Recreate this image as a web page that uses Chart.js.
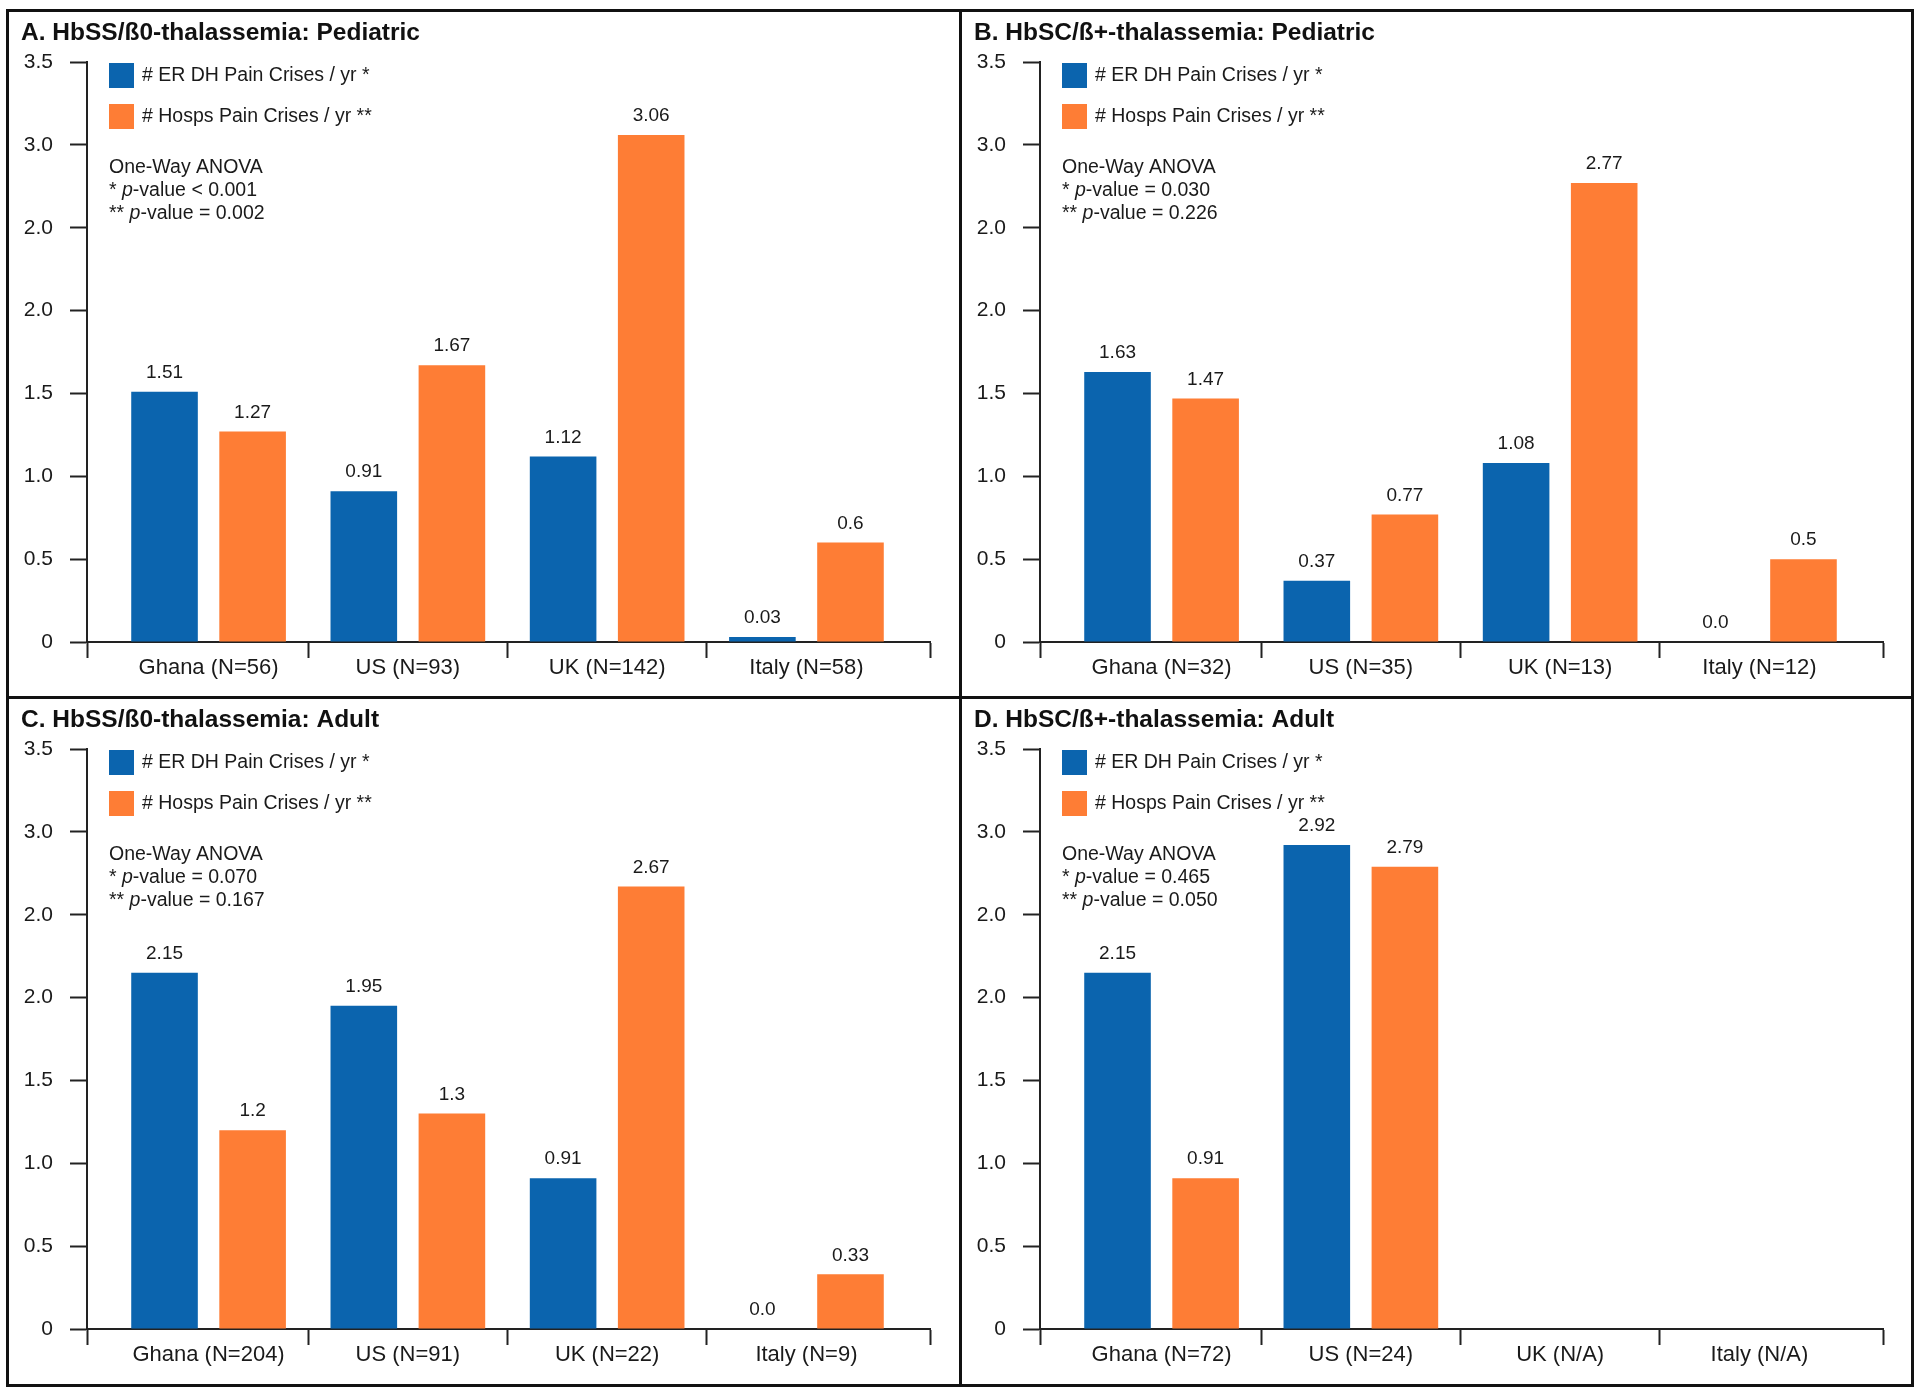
<!DOCTYPE html>
<html><head><meta charset="utf-8">
<script src="https://cdn.jsdelivr.net/npm/chart.js@4.4.1/dist/chart.umd.min.js"></script>
<style>
body{margin:0;background:#fff;width:1920px;height:1393px;position:relative;overflow:hidden}
.frame{position:absolute;left:6px;top:9px;width:1908px;height:1378px;border:3px solid #111;box-sizing:border-box}
.vline{position:absolute;left:959px;top:9px;width:3px;height:1378px;background:#111}
.hline{position:absolute;left:6px;top:696px;width:1908px;height:3px;background:#111}
canvas{position:absolute}
</style></head><body>
<div class="frame"></div><div class="vline"></div><div class="hline"></div>
<canvas id="cA" width="950" height="684" style="left:9px;top:12px"></canvas>
<canvas id="cB" width="950" height="684" style="left:962px;top:12px"></canvas>
<canvas id="cC" width="950" height="684" style="left:9px;top:699px"></canvas>
<canvas id="cD" width="950" height="684" style="left:962px;top:699px"></canvas>
<script>
// ---- data ----
const seriesNames = ['# ER DH Pain Crises / yr *', '# Hosps Pain Crises / yr **'];
const yTickValues = [0, 0.5, 1, 1.5, 2, 2.5, 3, 3.5];
const yTickLabels = ['0', '0.5', '1.0', '1.5', '2.0', '2.0', '3.0', '3.5'];

const titleA = 'A. HbSS/ß0-thalassemia: Pediatric';
const categoriesA = ['Ghana (N=56)', 'US (N=93)', 'UK (N=142)', 'Italy (N=58)'];
const erA = [1.51, 0.91, 1.12, 0.03];
const hospA = [1.27, 1.67, 3.06, 0.6];
const pA = ['< 0.001', '= 0.002'];

const titleB = 'B. HbSC/ß+-thalassemia: Pediatric';
const categoriesB = ['Ghana (N=32)', 'US (N=35)', 'UK (N=13)', 'Italy (N=12)'];
const erB = [1.63, 0.37, 1.08, 0.0];
const hospB = [1.47, 0.77, 2.77, 0.5];
const pB = ['= 0.030', '= 0.226'];

const titleC = 'C. HbSS/ß0-thalassemia: Adult';
const categoriesC = ['Ghana (N=204)', 'US (N=91)', 'UK (N=22)', 'Italy (N=9)'];
const erC = [2.15, 1.95, 0.91, 0.0];
const hospC = [1.2, 1.3, 2.67, 0.33];
const pC = ['= 0.070', '= 0.167'];

const titleD = 'D. HbSC/ß+-thalassemia: Adult';
const categoriesD = ['Ghana (N=72)', 'US (N=24)', 'UK (N/A)', 'Italy (N/A)'];
const erD = [2.15, 2.92, null, null];
const hospD = [0.91, 2.79, null, null];
const pD = ['= 0.465', '= 0.050'];

// ---- style ----
const FONT = '"Liberation Sans", Arial, Helvetica, sans-serif';
const BLUE = '#0B64AE';
const ORANGE = '#FE7D35';
const AX = '#222';
const TXT = '#1a1a1a';
const X_MIN = -0.61, X_MAX = 3.62;

const valueLabels = {
  id: 'valueLabels',
  afterDatasetsDraw(chart) {
    const ctx = chart.ctx;
    ctx.save();
    ctx.font = '19px ' + FONT;
    ctx.fillStyle = TXT;
    ctx.textAlign = 'center';
    ctx.textBaseline = 'middle';
    chart.data.datasets.forEach((ds, di) => {
      const meta = chart.getDatasetMeta(di);
      meta.data.forEach((el, i) => {
        const v = ds.data[i].y;
        if (v === null || v === undefined || !isFinite(el.x) || !isFinite(el.y)) return;
        const txt = v === 0 ? '0.0' : String(v);
        ctx.fillText(txt, el.x, el.y - 19);
      });
    });
    ctx.restore();
  }
};

const legendAnova = {
  id: 'legendAnova',
  afterDraw(chart, args, opts) {
    const ctx = chart.ctx;
    const a = chart.chartArea;
    const colors = [BLUE, ORANGE];
    ctx.save();
    ctx.textBaseline = 'middle';
    ctx.textAlign = 'left';
    for (let k = 0; k < 2; k++) {
      const by = a.top + 1 + k * 41;
      ctx.fillStyle = colors[k];
      ctx.fillRect(a.left + 22, by, 25, 25);
      ctx.fillStyle = TXT;
      ctx.font = '19.5px ' + FONT;
      ctx.fillText(chart.data.datasets[k].label, a.left + 55, by + 13);
    }
    const lines = [
      [['One-Way ANOVA', false]],
      [['* ', false], ['p', true], ['-value ' + opts.pv[0], false]],
      [['** ', false], ['p', true], ['-value ' + opts.pv[1], false]]
    ];
    ctx.fillStyle = TXT;
    lines.forEach((parts, li) => {
      let x = a.left + 22;
      const y = a.top + 106 + li * 23;
      parts.forEach(([t, it]) => {
        ctx.font = (it ? 'italic ' : '') + '19.5px ' + FONT;
        ctx.fillText(t, x, y);
        x += ctx.measureText(t).width;
      });
    });
    ctx.restore();
  }
};

function makeChart(id, title, cats, er, hosp, pv) {
  const toPts = arr => arr.map((v, i) => ({x: i, y: v}));
  return new Chart(document.getElementById(id), {
    type: 'bar',
    data: {
      datasets: [
        {label: seriesNames[0], data: toPts(er), backgroundColor: BLUE, categoryPercentage: 0.884, barPercentage: 0.756},
        {label: seriesNames[1], data: toPts(hosp), backgroundColor: ORANGE, categoryPercentage: 0.884, barPercentage: 0.756}
      ]
    },
    options: {
      responsive: false,
      animation: false,
      devicePixelRatio: 1,
      layout: {padding: {left: 12, right: 29, top: 0, bottom: 0}},
      plugins: {
        legend: {display: false},
        tooltip: {enabled: false},
        title: {display: true, text: title, align: 'start', color: '#111',
          font: {family: FONT, size: 24.5, weight: 'bold', lineHeight: 1},
          padding: {top: 9, bottom: 16.5}},
        legendAnova: {pv: pv}
      },
      scales: {
        x: {
          type: 'linear', min: X_MIN, max: X_MAX, position: 'bottom', weight: 0, offset: false,
          afterBuildTicks: s => { s.ticks = [X_MIN, 0.5, 1.5, 2.5, X_MAX].map(v => ({value: v})); },
          afterFit: s => { s.height = 17; },
          grid: {offset: false, drawOnChartArea: false, drawTicks: true, tickLength: 16, tickWidth: 2, tickColor: AX},
          border: {display: true, color: AX, width: 2},
          ticks: {display: false}
        },
        xl: {
          type: 'linear', min: X_MIN, max: X_MAX, position: 'bottom', weight: 1, offset: false,
          afterBuildTicks: s => { s.ticks = cats.map((c, i) => ({value: i})); },
          afterFit: s => { s.height = 37; },
          grid: {offset: false, display: false, drawTicks: false},
          border: {display: false},
          ticks: {autoSkip: false, maxRotation: 0, minRotation: 0, padding: -2, color: TXT,
            font: {family: FONT, size: 22, lineHeight: 1},
            callback: (v, i) => cats[i]}
        },
        y: {
          min: 0, max: 3.5,
          afterBuildTicks: s => { s.ticks = yTickValues.map(v => ({value: v})); },
          afterFit: s => { s.width = 66; },
          grid: {drawOnChartArea: false, drawTicks: true, tickLength: 17, tickWidth: 2, tickColor: AX},
          border: {display: true, color: AX, width: 2},
          ticks: {padding: 17, color: TXT, font: {family: FONT, size: 21},
            callback: (v, i) => yTickLabels[i]}
        }
      }
    },
    plugins: [valueLabels, legendAnova]
  });
}

makeChart('cA', titleA, categoriesA, erA, hospA, pA);
makeChart('cB', titleB, categoriesB, erB, hospB, pB);
makeChart('cC', titleC, categoriesC, erC, hospC, pC);
makeChart('cD', titleD, categoriesD, erD, hospD, pD);
</script>
</body></html>
